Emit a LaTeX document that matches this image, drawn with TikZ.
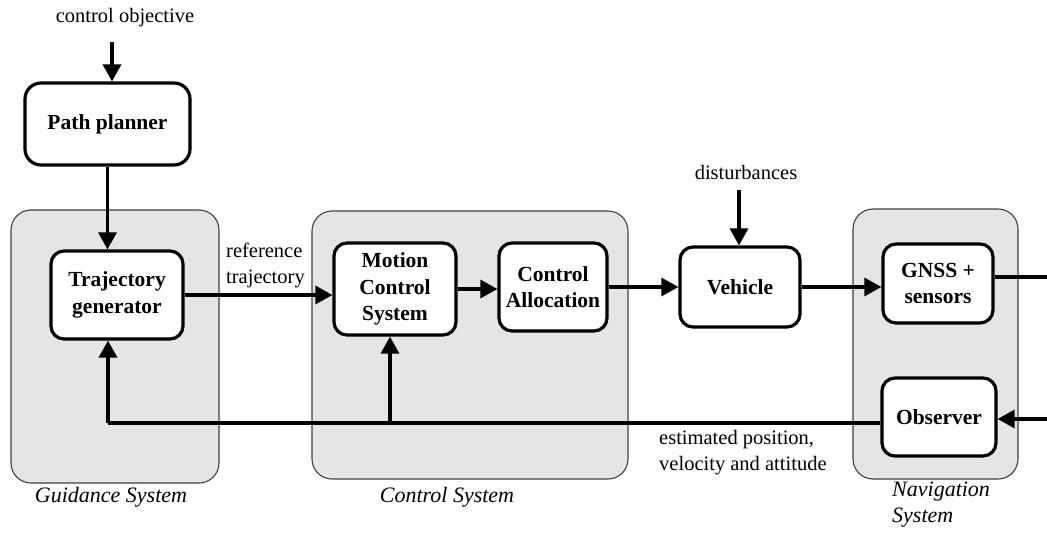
\documentclass[tikz,border=0pt]{standalone}
\usepackage{fontspec}
\setmainfont{Liberation Serif}
\usetikzlibrary{arrows.meta}

\begin{document}
\begin{tikzpicture}[x=1pt,y=-1pt,
  every node/.style={font=\fontsize{20.5}{26}\selectfont, inner sep=0pt},
  block/.style={draw=black, line width=3.2pt, fill=white, rounded corners=13pt,
    align=center, font=\fontsize{21.5}{26.5}\selectfont\bfseries},
  group/.style={draw=black!75, line width=1.1pt, fill=black!10, rounded corners=20pt},
  grouplabel/.style={font=\fontsize{22}{26}\selectfont\itshape, align=left},
  flow/.style={line width=3.2pt, -{Triangle[length=17pt,width=18pt]}},
  wire/.style={line width=3.2pt},
  lbl/.style={align=left}]

\useasboundingbox (0,0) rectangle (1047,533);

% subsystem backgrounds
\draw[group] (11,210) rectangle (219,483);
\draw[group] (312,211) rectangle (628,479);
\draw[group] (853,209) rectangle (1018,479);

% blocks
\node[block, minimum width=165pt, minimum height=82pt, rounded corners=16pt] (pp) at (107.5,124) {Path planner};
\node[block, minimum width=132pt, minimum height=88pt] (tg) at (117,295) {Trajectory\\generator};
\node[block, minimum width=122pt, minimum height=92pt] (mcs) at (395,289) {Motion\\Control\\System};
\node[block, minimum width=108pt, minimum height=88pt] (ca) at (553,287) {Control\\Allocation};
\node[block, minimum width=120pt, minimum height=80pt] (veh) at (740,287) {Vehicle};
\node[block, minimum width=110pt, minimum height=79pt] (gnss) at (938,283.5) {GNSS +\\sensors};
\node[block, minimum width=114pt, minimum height=78pt] (obs) at (939,417) {Observer};

% texts
\node (obj) at (125,18) {control objective};
\node (dist) at (746,172) {disturbances};
\node[lbl, anchor=west] (reftxt) at (226,265) {reference\\trajectory};
\node[lbl, anchor=west] (esttxt) at (659,453) {estimated position,\\velocity and attitude};
\node[grouplabel] (gl) at (111,497) {Guidance System};
\node[grouplabel] (cl) at (447,497) {Control System};
\node[grouplabel, anchor=west] (nl) at (892,505) {Navigation\\System};

% free ends and junctions
\coordinate (objtail) at (112,42);
\coordinate (disttail) at (739,190);
\coordinate (gout) at (1047,277);
\coordinate (obsin) at (1047,419);
\coordinate (fbleft) at (108,423);
\coordinate (fbmid) at (390,423);

% connectors
\draw[flow] (objtail) -- (objtail |- pp.north);
\draw[flow] (pp.south) -- (pp.south |- tg.north);
\draw[flow] (tg.east) -- (tg.east -| mcs.west);
\draw[flow] (mcs.east) -- (mcs.east -| ca.west);
\draw[flow] (ca.east) -- (ca.east -| veh.west);
\draw[flow] (disttail) -- (disttail |- veh.north);
\draw[flow] (veh.east) -- (veh.east -| gnss.west);
\draw[wire] (gnss.east |- gout) -- (gout);
\draw[flow] (obsin) -- (obsin -| obs.east);
\draw[wire] (obs.west |- fbleft) -- (fbleft);
\draw[flow] (fbleft) -- (fbleft |- tg.south);
\draw[flow] (fbmid) -- (fbmid |- mcs.south);
\end{tikzpicture}
\end{document}
